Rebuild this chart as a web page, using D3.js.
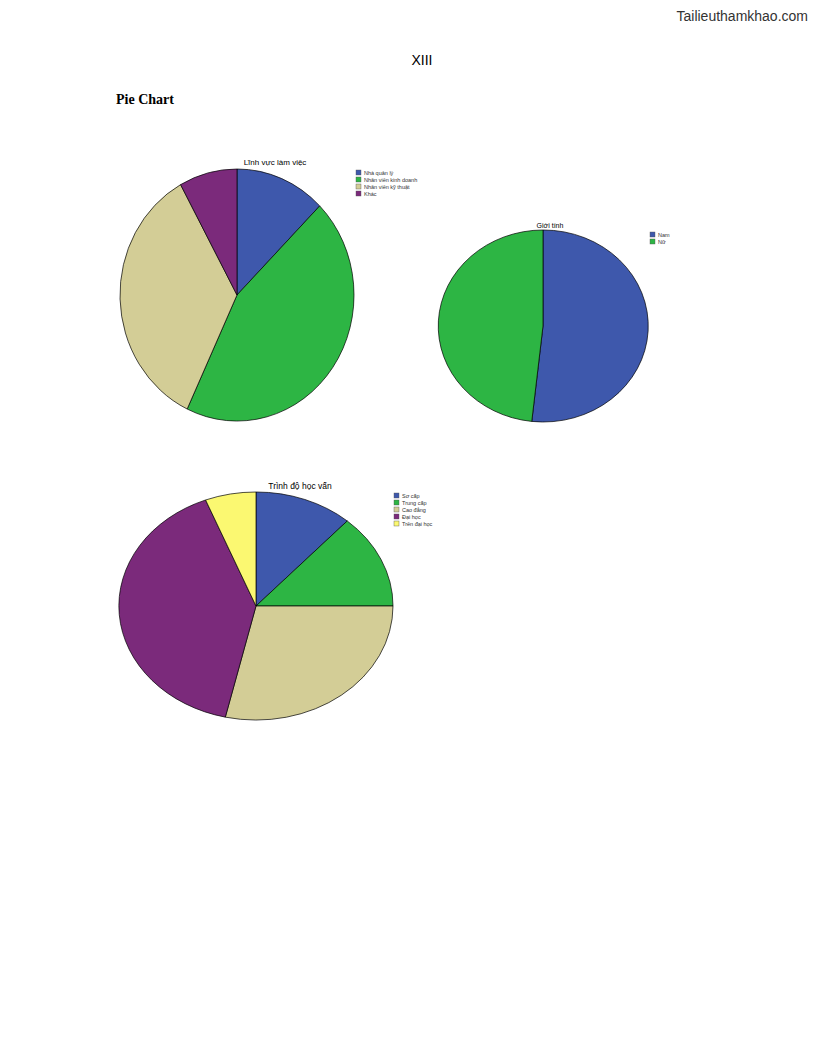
<!DOCTYPE html>
<html>
<head>
<meta charset="utf-8">
<title>Pie Chart</title>
<script src="https://d3js.org/d3.v7.min.js"></script>
<style>body{margin:0;background:#fff}</style>
</head>
<body>
<div id="viz"></div>
<script>
// data (percent)
var workLabels = ["Nhà quản lý", "Nhân viên kinh doanh", "Nhân viên kỹ thuật", "Khác"],
	workValues = [12.5, 44.5, 35, 8];
var genderLabels = ["Nam", "Nữ"],
	genderValues = [51.7, 48.3];
var eduLabels = ["Sơ cấp", "Trung cấp", "Cao đẳng", "Đại học", "Trên đại học"],
	eduValues = [11.6, 13.4, 28.6, 40.4, 6];
var palette = ["#3e58ac", "#2db544", "#d3cd96", "#7b2a7b", "#fbf871"];

var svg = d3.select("#viz").append("svg")
	.attr("width", 816).attr("height", 1056);

svg.append("text").attr("x", 808).attr("y", 21).attr("text-anchor", "end")
	.attr("font-family", "Arial, Liberation Sans").attr("font-size", 14).attr("fill", "#333")
	.text("Tailieuthamkhao.com");
svg.append("text").attr("x", 422).attr("y", 65).attr("text-anchor", "middle")
	.attr("font-family", "Arial, Liberation Sans").attr("font-size", 14)
	.text("XIII");
svg.append("text").attr("x", 116).attr("y", 104)
	.attr("font-family", "Liberation Serif, Times New Roman").attr("font-size", 14).attr("font-weight", "bold")
	.text("Pie Chart");

function pieChart(cx, cy, rx, ry, title, tx, ty, labels, values, lx, ly, tsize) {
	var pie = d3.pie().sort(null)(values);
	var arc = d3.arc().innerRadius(0).outerRadius(1);
	var g = svg.append("g").attr("transform", "translate(" + cx + "," + cy + ") scale(" + rx + "," + ry + ")");
	g.selectAll("path").data(pie).enter().append("path")
		.attr("d", arc)
		.attr("fill", function(d, i) { return palette[i]; })
		.attr("stroke", "#000").attr("stroke-width", 0.7)
		.attr("vector-effect", "non-scaling-stroke");
	svg.append("text").attr("x", tx).attr("y", ty).attr("text-anchor", "middle")
		.attr("font-family", "Arial, Liberation Sans").attr("font-size", tsize)
		.text(title);
	var lg = svg.append("g").attr("transform", "translate(" + lx + "," + ly + ")");
	labels.forEach(function(l, i) {
		lg.append("rect").attr("x", 0).attr("y", i * 7).attr("width", 5).attr("height", 5)
			.attr("fill", palette[i]).attr("stroke", "#555").attr("stroke-width", 0.4);
		lg.append("text").attr("x", 8).attr("y", i * 7 + 5)
			.attr("font-family", "Arial, Liberation Sans").attr("font-size", 5.5).attr("fill", "#333")
			.text(l);
	});
}

pieChart(237, 295, 117, 126, "Lĩnh vực làm việc", 275, 165, workLabels, workValues, 356, 170, 8);
pieChart(543, 326, 105, 96, "Giới tính", 550, 228, genderLabels, genderValues, 650, 232, 7);
pieChart(256, 606, 137, 114, "Trình độ học vấn", 300, 489, eduLabels, eduValues, 394, 493, 8.5);
</script>
</body>
</html>
